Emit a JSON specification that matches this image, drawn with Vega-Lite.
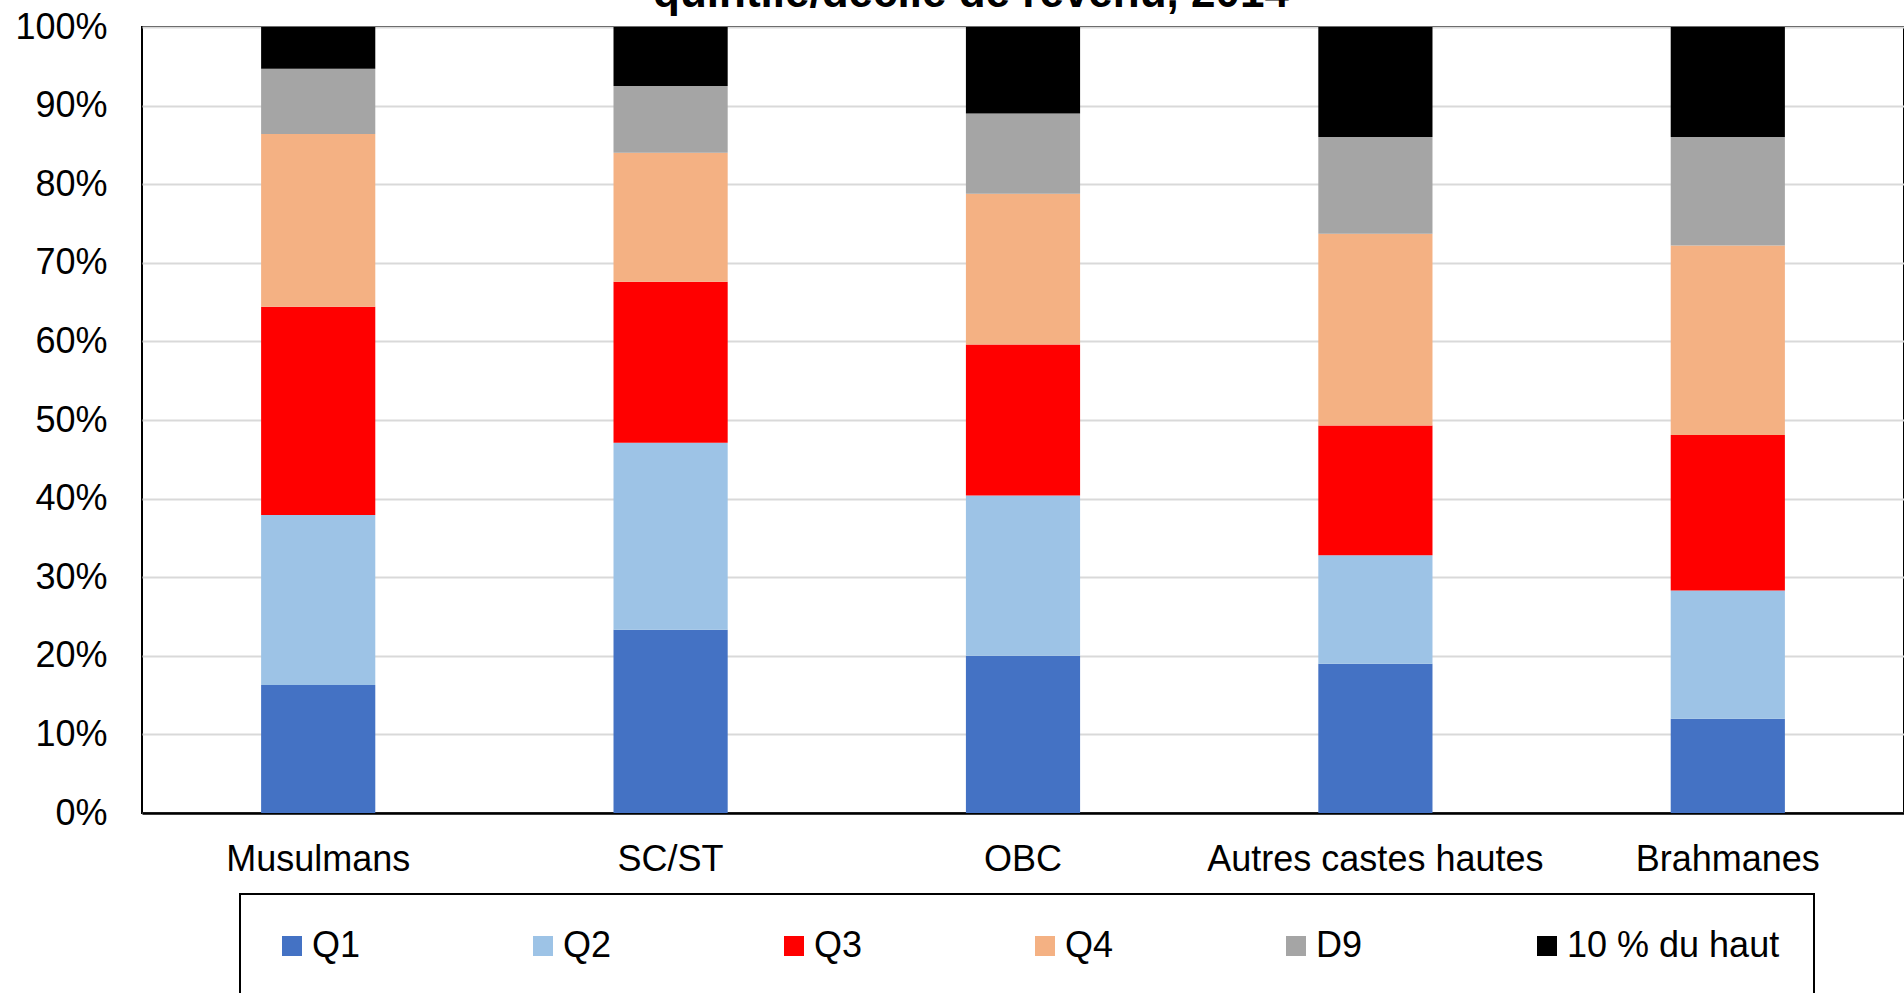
{
  "$schema": "https://vega.github.io/schema/vega-lite/v6.json",
  "autosize": {"type": "none"},
  "width": 1762,
  "height": 786,
  "padding": {"left": 142, "top": 27, "right": 0, "bottom": 180},
  "background": "white",
  "title": {
    "text": "quintile/décile de revenu, 2014",
    "font": "Liberation Sans",
    "fontSize": 44,
    "fontWeight": "bold",
    "color": "black",
    "anchor": "middle",
    "frame": "group",
    "baseline": "alphabetic",
    "offset": 0,
    "dy": 42,
    "dx": -52
  },
  "config": {
    "font": "Liberation Sans",
    "view": {"stroke": "black", "strokeWidth": 2},
    "axis": {
      "labelFont": "Liberation Sans",
      "labelFontSize": 36,
      "labelColor": "black",
      "labelLimit": 0,
      "ticks": false,
      "title": null
    },
    "legend": {
      "labelFont": "Liberation Sans",
      "labelFontSize": 36,
      "labelColor": "black",
      "labelLimit": 0
    }
  },
  "data": {
    "values": [
      {"groupe": "Musulmans", "classe": "Q1", "part": 16.3},
      {"groupe": "Musulmans", "classe": "Q2", "part": 21.6},
      {"groupe": "Musulmans", "classe": "Q3", "part": 26.5},
      {"groupe": "Musulmans", "classe": "Q4", "part": 22.0},
      {"groupe": "Musulmans", "classe": "D9", "part": 8.3},
      {"groupe": "Musulmans", "classe": "10 % du haut", "part": 5.3},
      {"groupe": "SC/ST", "classe": "Q1", "part": 23.3},
      {"groupe": "SC/ST", "classe": "Q2", "part": 23.8},
      {"groupe": "SC/ST", "classe": "Q3", "part": 20.5},
      {"groupe": "SC/ST", "classe": "Q4", "part": 16.4},
      {"groupe": "SC/ST", "classe": "D9", "part": 8.5},
      {"groupe": "SC/ST", "classe": "10 % du haut", "part": 7.5},
      {"groupe": "OBC", "classe": "Q1", "part": 20.0},
      {"groupe": "OBC", "classe": "Q2", "part": 20.4},
      {"groupe": "OBC", "classe": "Q3", "part": 19.2},
      {"groupe": "OBC", "classe": "Q4", "part": 19.2},
      {"groupe": "OBC", "classe": "D9", "part": 10.2},
      {"groupe": "OBC", "classe": "10 % du haut", "part": 11.0},
      {"groupe": "Autres castes hautes", "classe": "Q1", "part": 19.0},
      {"groupe": "Autres castes hautes", "classe": "Q2", "part": 13.8},
      {"groupe": "Autres castes hautes", "classe": "Q3", "part": 16.5},
      {"groupe": "Autres castes hautes", "classe": "Q4", "part": 24.4},
      {"groupe": "Autres castes hautes", "classe": "D9", "part": 12.3},
      {"groupe": "Autres castes hautes", "classe": "10 % du haut", "part": 14.0},
      {"groupe": "Brahmanes", "classe": "Q1", "part": 12.0},
      {"groupe": "Brahmanes", "classe": "Q2", "part": 16.3},
      {"groupe": "Brahmanes", "classe": "Q3", "part": 19.8},
      {"groupe": "Brahmanes", "classe": "Q4", "part": 24.1},
      {"groupe": "Brahmanes", "classe": "D9", "part": 13.8},
      {"groupe": "Brahmanes", "classe": "10 % du haut", "part": 14.0}
    ]
  },
  "transform": [
    {"calculate": "indexof(['Q1', 'Q2', 'Q3', 'Q4', 'D9', '10 % du haut'], datum.classe)", "as": "rang"}
  ],
  "mark": {"type": "bar"},
  "encoding": {
    "x": {
      "field": "groupe",
      "type": "nominal",
      "sort": ["Musulmans", "SC/ST", "OBC", "Autres castes hautes", "Brahmanes"],
      "scale": {"paddingInner": 0.676, "paddingOuter": 0.338},
      "axis": {
        "labelAngle": 0,
        "labelPadding": 29,
        "domainColor": "black",
        "domainWidth": 2.5,
        "grid": false
      }
    },
    "y": {
      "field": "part",
      "type": "quantitative",
      "stack": "zero",
      "scale": {"domain": [0, 100], "nice": false},
      "axis": {
        "values": [0, 10, 20, 30, 40, 50, 60, 70, 80, 90, 100],
        "labelExpr": "datum.value + '%'",
        "labelPadding": 35,
        "domain": false,
        "grid": true,
        "gridColor": "#d9d9d9",
        "gridWidth": 2
      }
    },
    "color": {
      "field": "classe",
      "type": "nominal",
      "sort": ["Q1", "Q2", "Q3", "Q4", "D9", "10 % du haut"],
      "scale": {
        "domain": ["Q1", "Q2", "Q3", "Q4", "D9", "10 % du haut"],
        "range": ["#4472C4", "#9DC3E6", "#FF0000", "#F4B183", "#A5A5A5", "#000000"]
      },
      "legend": {
        "title": null,
        "orient": "none",
        "legendX": 98,
        "legendY": 867,
        "direction": "horizontal",
        "columns": 6,
        "gridAlign": "all",
        "columnPadding": 0,
        "padding": 34,
        "strokeColor": "black",
        "symbolType": "square",
        "symbolSize": 400,
        "symbolStrokeWidth": 0,
        "labelOffset": 2,
        "encode": {"legend": {"update": {"strokeWidth": {"value": 2}}}}
      }
    },
    "order": {"field": "rang", "type": "quantitative", "sort": "ascending"}
  }
}
